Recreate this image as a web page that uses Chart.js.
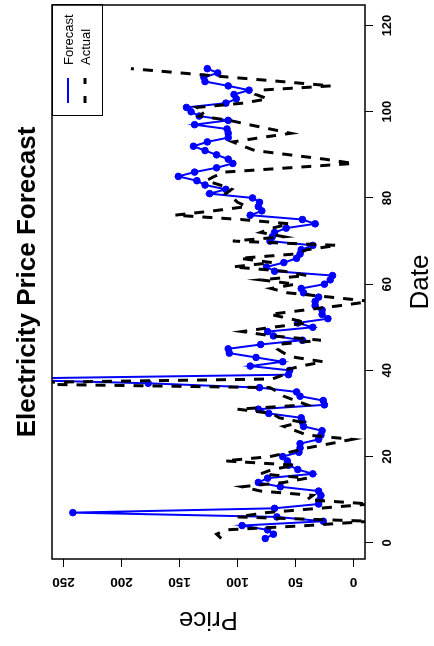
<!DOCTYPE html>
<html><head><meta charset="utf-8">
<script src="https://cdn.jsdelivr.net/npm/chart.js@4.4.1/dist/chart.umd.min.js"></script>
<style>
html,body{margin:0;padding:0;background:#fff;overflow:hidden;width:434px;height:646px;}
#wrap{position:absolute;left:0;top:0;width:646px;height:434px;transform-origin:0 0;transform:translate(0,646px) rotate(-90deg);}
</style></head><body>
<div id="wrap"><canvas id="c" width="646" height="434"></canvas></div>
<script>
const chartTitle = 'Electricity Price Forecast';
const xTitle = 'Date';
const yTitle = 'Price';
const xTickLabels = [0, 20, 40, 60, 80, 100, 120];
const yTickLabels = [0, 50, 100, 150, 200, 250];
const seriesNames = ['Forecast', 'Actual'];

const dates = [1,2,3,4,5,6,7,8,9,10,11,12,13,14,15,16,17,18,19,20,
  21,22,23,24,25,26,27,28,29,30,31,32,33,34,35,36,37,38,39,40,
  41,42,43,44,45,46,47,48,49,50,51,52,53,54,55,56,57,58,59,60,
  61,62,63,64,65,66,67,68,69,70,71,72,73,74,75,76,77,78,79,80,
  81,82,83,84,85,86,87,88,89,90,91,92,93,94,95,96,97,98,99,100,
  101,102,103,104,105,106,107,108,109,110];

const forecast = [76,69,74,96,26,66,242,68,30,29,28,30,63,82,74,35,48,56,57,61,
  47,46,46,30,28,27,43,44,45,73,82,25,26,46,49,81,177,320,56,55,
  89,61,84,107,108,80,44,69,74,35,48,22,27,27,33,33,30,43,45,25,
  20,18,68,75,60,49,46,45,35,72,70,68,58,33,44,89,79,82,81,87,
  124,110,128,135,151,137,118,104,108,118,128,138,126,108,108,109,137,108,133,140,
  144,110,101,103,90,108,128,129,117,126];

const actual = [114,118,110,40,-15,100,75,30,-15,40,35,80,96,60,40,80,70,50,111,72,
  55,40,20,1,40,50,60,45,64,70,100,40,50,60,65,72,330,70,60,60,
  45,26,50,60,66,66,28,70,96,70,40,55,72,42,12,-15,20,57,71,50,
  80,40,60,104,70,98,50,40,14,104,60,80,70,55,97,154,121,92,100,104,
  110,105,115,127,120,111,55,0,25,55,85,95,104,80,54,72,90,107,133,128,
  135,95,74,84,81,19,62,106,149,192];

const FONT = "'Liberation Sans', Arial, Helvetica, sans-serif";

const decor = {
  id: 'decor',
  afterDraw(chart) {
    const ctx = chart.ctx;
    const a = chart.chartArea;
    const ys = chart.scales.y;
    ctx.save();
    ctx.fillStyle = '#000';
    ctx.strokeStyle = '#000';
    ctx.lineWidth = 1.5;
    ctx.strokeRect(a.left, a.top, a.right - a.left, a.bottom - a.top);
    ctx.font = 'bold 13.5px ' + FONT;
    ctx.textAlign = 'center';
    ctx.textBaseline = 'alphabetic';
    yTickLabels.forEach(v => {
      const py = ys.getPixelForValue(v);
      ctx.save();
      ctx.translate(68, py);
      ctx.rotate(-Math.PI / 2);
      ctx.fillText(String(v), 0, 0);
      ctx.restore();
    });
    const cx = (a.left + a.right) / 2;
    const cy = (a.top + a.bottom) / 2;
    ctx.font = 'bold 26px ' + FONT;
    ctx.fillText(chartTitle, cx, 35);
    ctx.font = '26px ' + FONT;
    ctx.fillText(xTitle, cx, 428);
    ctx.save();
    ctx.translate(34, cy);
    ctx.rotate(-Math.PI / 2);
    ctx.fillText(yTitle, 0, 0);
    ctx.restore();
    const lx = 530, ly = a.top, lw = a.right - 530, lh = 50;
    ctx.lineWidth = 1;
    ctx.strokeRect(lx + 0.5, ly + 0.5, lw, lh);
    ctx.lineWidth = 2;
    ctx.strokeStyle = '#0000ff';
    ctx.beginPath(); ctx.moveTo(543, ly + 16); ctx.lineTo(568, ly + 16); ctx.stroke();
    ctx.strokeStyle = '#000';
    ctx.lineWidth = 3;
    ctx.setLineDash([7, 12]);
    ctx.beginPath(); ctx.moveTo(543, ly + 33); ctx.lineTo(568, ly + 33); ctx.stroke();
    ctx.setLineDash([]);
    ctx.font = '13px ' + FONT;
    ctx.textAlign = 'left';
    ctx.fillText(seriesNames[0], 581, ly + 21);
    ctx.fillText(seriesNames[1], 581, ly + 38);
    ctx.restore();
  }
};

new Chart(document.getElementById('c'), {
  type: 'line',
  data: {
    datasets: [
      {
        label: seriesNames[1],
        data: dates.map((d, i) => ({ x: d, y: actual[i] })),
        borderColor: '#000000', borderWidth: 3, borderDash: [10, 9],
        pointRadius: 0, fill: false, tension: 0, order: 0
      },
      {
        label: seriesNames[0],
        data: dates.map((d, i) => ({ x: d, y: forecast[i] })),
        borderColor: '#0000ff', backgroundColor: '#0000ff', borderWidth: 2,
        pointRadius: 3.3, pointBorderWidth: 1, pointBorderColor: '#0000ff',
        pointBackgroundColor: '#0000ff', fill: false, tension: 0, order: 1
      }
    ]
  },
  options: {
    responsive: false, animation: false, devicePixelRatio: 1,
    layout: { padding: { left: 0, right: 5, top: 52, bottom: 0 } },
    plugins: { legend: { display: false }, tooltip: { enabled: false }, title: { display: false } },
    scales: {
      x: {
        type: 'linear', min: -3.76, max: 124.76,
        afterBuildTicks: s => { s.ticks = xTickLabels.map(v => ({ value: v })); },
        afterFit: s => { s.height = 69; },
        grid: { display: true, drawOnChartArea: false, drawTicks: true, tickLength: 8, color: '#000', lineWidth: 1 },
        border: { display: false },
        ticks: { color: '#000', font: { family: FONT, size: 13, weight: 'bold' }, padding: 7, maxRotation: 0, minRotation: 0, autoSkip: false }
      },
      y: {
        type: 'linear', min: -10, max: 260,
        afterBuildTicks: s => { s.ticks = yTickLabels.map(v => ({ value: v })); },
        afterFit: s => { s.width = 87; },
        grid: { display: true, drawOnChartArea: false, drawTicks: true, tickLength: 8, color: '#000', lineWidth: 1 },
        border: { display: false },
        ticks: { display: false }
      }
    }
  },
  plugins: [decor]
});
</script>
</body></html>
